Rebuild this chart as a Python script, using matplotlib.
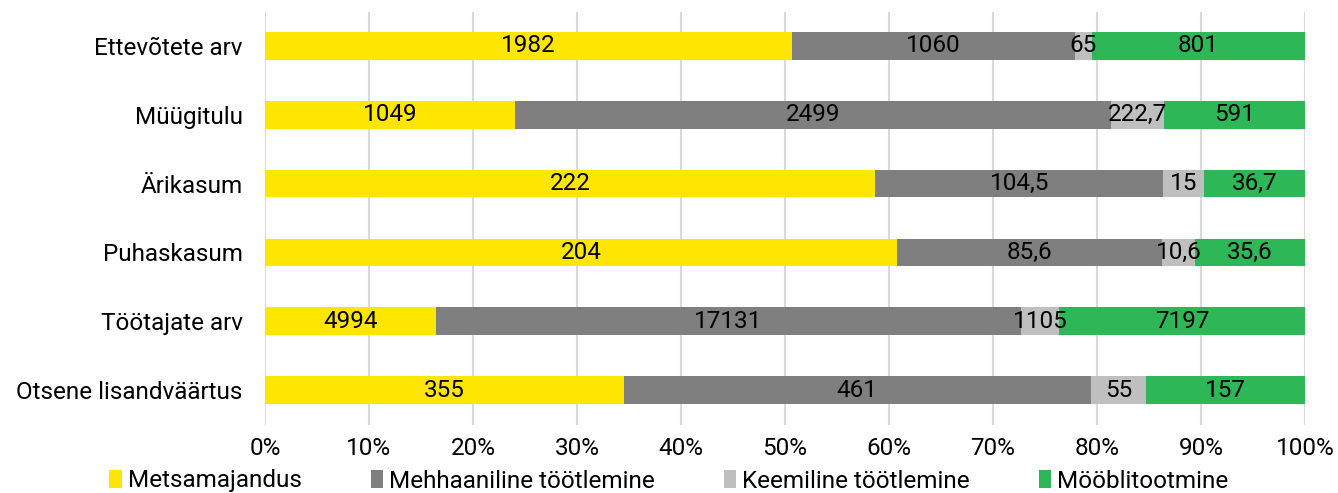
import matplotlib
matplotlib.use("Agg")
import matplotlib.pyplot as plt
import numpy as np
from matplotlib.ticker import FuncFormatter

categories = ["Ettevõtete arv", "Müügitulu", "Ärikasum", "Puhaskasum", "Töötajate arv", "Otsene lisandväärtus"]
series_names = ["Metsamajandus", "Mehhaaniline töötlemine", "Keemiline töötlemine", "Mööblitootmine"]
metsamajandus = [1982, 1049, 222, 204, 4994, 355]
mehhaaniline = [1060, 2499, 104.5, 85.6, 17131, 461]
keemiline = [65, 222.7, 15, 10.6, 1105, 55]
mooblitootmine = [801, 591, 36.7, 35.6, 7197, 157]
colors = ["#FFE600", "#7F7F7F", "#BFBFBF", "#2DB757"]

plt.rcParams['font.family'] = ['Roboto', 'DejaVu Sans']
FS = 17.5

data = np.array([metsamajandus, mehhaaniline, keemiline, mooblitootmine], dtype=float)
totals = data.sum(axis=0)
shares = data / totals

fig = plt.figure(figsize=(13.38, 4.93), dpi=100)
ax = fig.add_axes([265/1338, 1 - 424.5/493, 1040/1338, 413/493])
y = np.arange(len(categories))
left = np.zeros(len(categories))

def fmt(v):
    s = f"{v:g}"
    return s.replace(".", ",")

for i, name in enumerate(series_names):
    ax.barh(y, shares[i], left=left, height=0.4, color=colors[i], label=name, zorder=2)
    for j in range(len(categories)):
        ax.text(left[j] + shares[i][j] / 2, y[j], fmt(data[i][j]), ha="center", va="center",
                fontsize=FS, color="black", zorder=3)
    left += shares[i]

ax.set_ylim(len(categories) - 0.5, -0.5)
ax.set_xlim(0, 1)
ax.set_yticks(y)
ax.set_yticklabels(categories, fontsize=FS)
ax.set_xticks(np.linspace(0, 1, 11))
ax.xaxis.set_major_formatter(FuncFormatter(lambda v, p: f"{int(round(v*100))}%"))
ax.tick_params(axis="x", labelsize=FS, length=0, pad=9)
ax.tick_params(axis="y", length=0, pad=16)
for s in ax.spines.values():
    s.set_visible(False)
ax.grid(axis="x", color="#D9D9D9", linewidth=1.5, zorder=0)
ax.set_axisbelow(True)

handles, labels = ax.get_legend_handles_labels()
fig.legend(handles, labels, loc="center", bbox_to_anchor=(0.5, 1 - 481/493), ncol=4, frameon=False,
           fontsize=FS, handlelength=0.5, handleheight=0.75, handletextpad=0.25, columnspacing=2.85,
           borderaxespad=0, borderpad=0)

fig.savefig("out.png", dpi=100)
